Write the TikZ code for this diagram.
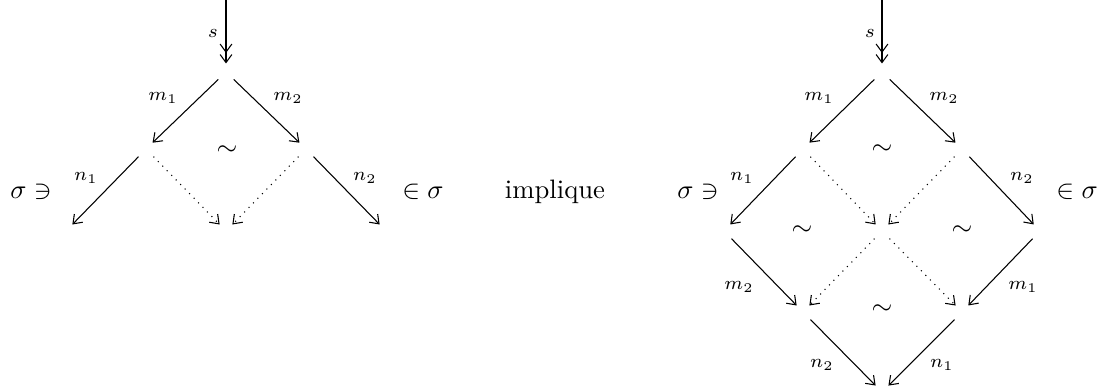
\documentclass[tikz,border=0pt]{standalone}
\usetikzlibrary{arrows.meta}
\begin{document}
\begin{tikzpicture}[x=0.375pt,y=-0.375pt,
  tipa/.tip={Straight Barb[length=3pt,width=4.4pt,line width=0.4pt]},
  arr/.style={line width=0.4pt,-{tipa},shorten <=4pt,shorten >=3.4pt},
  dotarr/.style={arr,dotted},
  tarr/.style={line width=0.4pt,-{tipa[sep=0.4pt]tipa},shorten >=3.2pt},
  lab/.style={inner sep=0pt,font=\scriptsize},
  txt/.style={inner sep=0pt,anchor=base}]
\useasboundingbox (0,0) rectangle (1116,389);
% left diagram
\coordinate (L0) at (226,0);
\coordinate (LA) at (226,72);
\coordinate (LB1) at (146,149);
\coordinate (LB2) at (306,149);
\coordinate (LC1) at (66,231);
\coordinate (LC2) at (226,231);
\coordinate (LC3) at (386,231);
\draw[tarr] (L0) -- (LA);
\draw[arr] (LA) -- (LB1);
\draw[arr] (LA) -- (LB2);
\draw[arr] (LB1) -- (LC1);
\draw[dotarr] (LB1) -- (LC2);
\draw[dotarr] (LB2) -- (LC2);
\draw[arr] (LB2) -- (LC3);
\node[lab] (ls) at (213,33) {$s$};
\node[lab] (lm1) at (163,98) {$m_1$};
\node[lab] (lm2) at (288,98) {$m_2$};
\node[lab] (ln1) at (86,178) {$n_1$};
\node[lab] (ln2) at (365,178) {$n_2$};
\node[inner sep=0pt] (lt) at (227,151) {$\sim$};
\node[txt] (lsig) at (31,198) {$\sigma\ni$};
\node[txt] (lin) at (423,198) {$\in\sigma$};
\node[txt] (impl) at (555,198) {implique};
% right diagram
\coordinate (R0) at (882,0);
\coordinate (RA) at (882,72);
\coordinate (RB1) at (803,149);
\coordinate (RB2) at (962,149);
\coordinate (RC1) at (724,231);
\coordinate (RC2) at (882,231);
\coordinate (RC3) at (1040,231);
\coordinate (RD1) at (803,312);
\coordinate (RD2) at (962,312);
\coordinate (RE) at (882,392);
\draw[tarr] (R0) -- (RA);
\draw[arr] (RA) -- (RB1);
\draw[arr] (RA) -- (RB2);
\draw[arr] (RB1) -- (RC1);
\draw[dotarr] (RB1) -- (RC2);
\draw[dotarr] (RB2) -- (RC2);
\draw[arr] (RB2) -- (RC3);
\draw[arr] (RC1) -- (RD1);
\draw[dotarr] (RC2) -- (RD1);
\draw[dotarr] (RC2) -- (RD2);
\draw[arr] (RC3) -- (RD2);
\draw[arr] (RD1) -- (RE);
\draw[arr] (RD2) -- (RE);
\node[lab] (rs) at (870,33) {$s$};
\node[lab] (rm1) at (819,98) {$m_1$};
\node[lab] (rm2) at (944,98) {$m_2$};
\node[lab] (rn1) at (742,178) {$n_1$};
\node[lab] (rn2) at (1022,178) {$n_2$};
\node[lab] (rm2b) at (739,287) {$m_2$};
\node[lab] (rm1b) at (1023,287) {$m_1$};
\node[lab] (rn2b) at (822,365) {$n_2$};
\node[lab] (rn1b) at (942,365) {$n_1$};
\node[inner sep=0pt] (rt1) at (882,150) {$\sim$};
\node[inner sep=0pt] (rt2) at (802,231) {$\sim$};
\node[inner sep=0pt] (rt3) at (962,231) {$\sim$};
\node[inner sep=0pt] (rt4) at (882,310) {$\sim$};
\node[txt] (rsig) at (698,198) {$\sigma\ni$};
\node[txt] (rin) at (1077,198) {$\in\sigma$};
\end{tikzpicture}
\end{document}
